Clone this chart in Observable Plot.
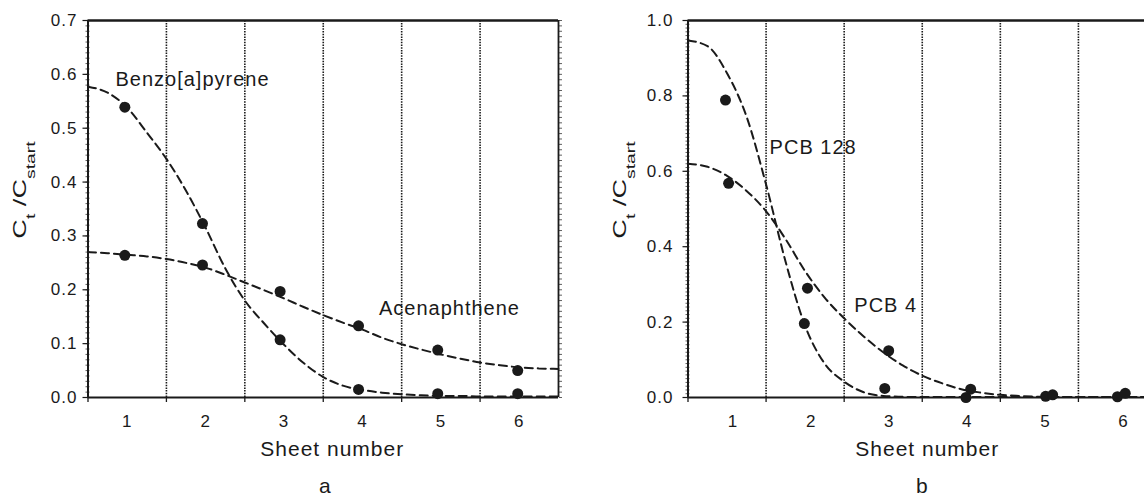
<!DOCTYPE html>
<html><head><meta charset="utf-8">
<script src="https://cdn.jsdelivr.net/npm/d3@7"></script>
<script src="https://cdn.jsdelivr.net/npm/@observablehq/plot@0.6"></script>
<style>
html,body{margin:0;padding:0;background:#fff;overflow:hidden;}
#wrap{display:flex;flex-wrap:nowrap;width:1170px;}
#wrap svg{display:block;flex:none;overflow:visible;}
#wrap svg text{letter-spacing:1px;}
#wrap svg text.ylab{letter-spacing:0;}
</style></head><body><div id="wrap"></div>
<script>
// ---------- data ----------
const sheets = [1, 2, 3, 4, 5, 6];
const sheetEdges = [0.5, 1.5, 2.5, 3.5, 4.5, 5.5];
const dividers = [1.5, 2.5, 3.5, 4.5, 5.5];
const yTicksA = [0, 0.1, 0.2, 0.3, 0.4, 0.5, 0.6, 0.7];
const yTicksB = [0, 0.2, 0.4, 0.6, 0.8, 1.0];

// panel a: measured points
const pointXA = [0.97, 1.96, 2.95, 3.95, 4.96, 5.98];
const benzoObs = [0.539, 0.323, 0.107, 0.015, 0.007, 0.007];
const acenObs = [0.264, 0.246, 0.197, 0.133, 0.088, 0.050];

// fitted curves
const fitX = [0.5, 0.75, 1, 1.25, 1.5, 1.75, 2, 2.25, 2.5, 2.75, 3, 3.25, 3.5, 3.75, 4, 4.25, 4.5, 4.75, 5, 5.25, 5.5, 5.75, 6, 6.25, 6.5];
const benzoFit = [0.577, 0.566, 0.538, 0.492, 0.443, 0.384, 0.315, 0.24, 0.18, 0.137, 0.098, 0.064, 0.038, 0.022, 0.014, 0.009, 0.006, 0.004, 0.003, 0.003, 0.002, 0.002, 0.002, 0.002, 0.002];
const acenFit = [0.27, 0.268, 0.265, 0.262, 0.257, 0.25, 0.241, 0.228, 0.2135, 0.199, 0.184, 0.168, 0.153, 0.139, 0.126, 0.111, 0.099, 0.089, 0.08, 0.072, 0.065, 0.06, 0.056, 0.054, 0.053];

// panel b: measured points
const pointX128 = [0.98, 1.99, 3.02, 4.06, 5.08, 6.0];
const pcb128Obs = [0.789, 0.196, 0.024, 0.0, 0.003, 0.002];
const pointX4 = [1.02, 2.03, 3.07, 4.12, 5.17, 6.1];
const pcb4Obs = [0.568, 0.29, 0.124, 0.022, 0.007, 0.011];
const pcb128Fit = [0.947, 0.932, 0.86, 0.745, 0.565, 0.36, 0.19, 0.09, 0.042, 0.014, 0.004, 0.002, 0.001, 0.001, 0.001, 0.001, 0.001, 0.001, 0.001, 0.001, 0.001, 0.001, 0.001, 0.001, 0.001];
const pcb4Fit = [0.62, 0.612, 0.588, 0.548, 0.494, 0.42, 0.335, 0.265, 0.21, 0.162, 0.12, 0.085, 0.058, 0.038, 0.022, 0.013, 0.007, 0.004, 0.002, 0.001, 0.001, 0.001, 0.001, 0.001, 0.001];

// series labels
const labelsA = [
  {name: "Benzo[a]pyrene", x: 0.85, y: 0.59},
  {name: "Acenaphthene", x: 4.21, y: 0.166}
];
const labelsB = [
  {name: "PCB 128", x: 1.545, y: 0.664},
  {name: "PCB 4", x: 2.63, y: 0.245}
];

// ---------- drawing ----------
const INK = "#1a1a1a";
const FONT = "'Liberation Sans', Arial, Helvetica, sans-serif";

function panel(o) {
  const yMax = o.yDomain[1];
  const minor = d3.range(0, Math.round(yMax * 100) + 1).map(i => i / 100);
  const curves = o.curves.map(c => fitX.map((x, i) => ({x, y: c[i]})));
  const pts = o.points.flatMap(p => p.xs.map((x, i) => ({x, y: p.ys[i]})));
  const marks = [
    Plot.ruleX(dividers, {y1: 0, y2: yMax, stroke: INK, strokeWidth: 1.6, strokeDasharray: "1.5,1.2"}),
    Plot.axisY({ticks: minor, tickSize: 4, dx: 2, tickFormat: () => "", label: null, strokeWidth: 0.7}),
    Plot.axisY({ticks: o.yTicks, tickSize: 5, tickPadding: o.yPad, tickFormat: d3.format(".1f"), fontSize: 17, label: null, strokeWidth: 1.2}),
    Plot.axisX({ticks: sheetEdges, tickSize: 5, tickFormat: () => "", label: null, strokeWidth: 1.3}),
    Plot.axisX({ticks: sheets, tickSize: 0, tickPadding: 17, tickFormat: d => String(d), fontSize: 17, label: null, dx: o.tickDx}),
    Plot.ruleY([yMax], {stroke: INK, strokeWidth: 2.4}),
    Plot.ruleY([0], {stroke: INK, strokeWidth: 2}),
    Plot.ruleX([0.5], {y1: 0, y2: yMax, stroke: INK, strokeWidth: 2}),
    ...curves.map(c => Plot.line(c, {x: "x", y: "y", curve: "monotone-x", stroke: INK, strokeWidth: 2, strokeDasharray: "8,5"})),
    Plot.dot(pts, {x: "x", y: "y", r: 5.5, fill: INK, stroke: "none"}),
    Plot.text(o.labels, {x: "x", y: "y", text: "name", textAnchor: "start", fontSize: 20, fill: INK}),
    Plot.text(["Sheet number"], {text: d => d, frameAnchor: "bottom", dy: 58, dx: o.titleDx, fontSize: 21, fill: INK}),
    Plot.text([o.letter], {text: d => d, frameAnchor: "bottom", dy: 95, dx: o.capDx, fontSize: 21, fill: INK})
  ];
  if (o.rightBorder) {
    marks.push(Plot.ruleX([6.5], {y1: 0, y2: yMax, stroke: INK, strokeWidth: 1.8}));
    marks.push(Plot.axisY({anchor: "right", ticks: minor, tickSize: 3, tickFormat: () => "", label: null, strokeWidth: 0.7}));
  }
  const chart = Plot.plot({
    width: o.width, height: 495,
    marginLeft: o.marginLeft, marginRight: o.marginRight, marginTop: 20, marginBottom: 98,
    x: {domain: [0.5, 6.5]},
    y: {domain: o.yDomain},
    style: {fontFamily: FONT, color: INK, background: "white"},
    marks
  });
  // y-axis title with subscripts
  const svg = d3.select(chart);
  const t = svg.append("text")
    .attr("class", "ylab")
    .attr("transform", `translate(${o.marginLeft - 62},190) rotate(-90) scale(1.55,1)`)
    .attr("text-anchor", "middle")
    .attr("font-size", 17.5)
    .attr("fill", INK);
  t.append("tspan").text("C");
  t.append("tspan").attr("font-size", 12.5).attr("dy", 9).text("t");
  t.append("tspan").attr("dy", -9).text(" /C");
  t.append("tspan").attr("font-size", 12.5).attr("dy", 9).text("start");
  return chart;
}

const wrap = document.getElementById("wrap");
wrap.appendChild(panel({
  width: 572, marginLeft: 87.5, marginRight: 14,
  yDomain: [0, 0.7], yTicks: yTicksA, yPad: 5.5,
  curves: [benzoFit, acenFit],
  points: [{xs: pointXA, ys: benzoObs}, {xs: pointXA, ys: acenObs}],
  labels: labelsA, tickDx: 0, titleDx: 9, capDx: 2, letter: "a", rightBorder: true
}));
wrap.appendChild(panel({
  width: 588, marginLeft: 115.5, marginRight: 4,
  yDomain: [0, 1.0], yTicks: yTicksB, yPad: 9.5,
  curves: [pcb128Fit, pcb4Fit],
  points: [{xs: pointX128, ys: pcb128Obs}, {xs: pointX4, ys: pcb4Obs}],
  labels: labelsB, tickDx: 6, titleDx: 5, capDx: 0, letter: "b", rightBorder: false
}));
</script></body></html>
